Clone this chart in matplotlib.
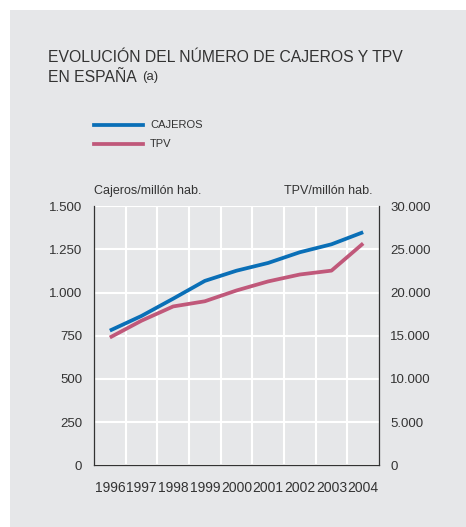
import numpy as np
import matplotlib.pyplot as plt
from matplotlib.patches import Rectangle
from matplotlib.ticker import FuncFormatter

plt.rcParams['font.family'] = ['Liberation Sans', 'DejaVu Sans']

# datos
years = ["1996", "1997", "1998", "1999", "2000", "2001", "2002", "2003", "2004"]
cajeros = [780, 865, 965, 1068, 1127, 1172, 1234, 1280, 1350]
tpv = [14800, 16750, 18400, 19000, 20250, 21300, 22100, 22550, 25700]

left_ticks = [0, 250, 500, 750, 1000, 1250, 1500]
right_ticks = [0, 5000, 10000, 15000, 20000, 25000, 30000]

BG = "#e6e7e9"
TXT = "#333333"
BLUE = "#0a6fb7"
RED = "#c0587a"


def miles(v, pos):
    # separador de miles con punto
    return "{:,.0f}".format(v).replace(",", ".")


fig = plt.figure(figsize=(4.66, 5.27), dpi=100)
fig.patch.set_facecolor("white")
fig.patches.append(Rectangle((10/466, 0), 1 - 10/466, 1 - 10/527,
                             transform=fig.transFigure, facecolor=BG,
                             edgecolor="none", zorder=-10))

ax = fig.add_axes([94/466, 61.7/527, 285/466, 259/527])
ax.set_facecolor(BG)
ax2 = ax.twinx()

x = np.arange(len(years))
ax.plot(x, cajeros, color=BLUE, lw=2.7, solid_capstyle="butt", zorder=3)
ax2.plot(x, tpv, color=RED, lw=2.7, solid_capstyle="butt", zorder=3)

ax.set_xlim(-0.5, len(years) - 0.5)
ax.set_ylim(0, 1500)
ax2.set_ylim(0, 30000)
ax.set_xticks(x)
ax.set_xticklabels(years)
ax.set_xticks(np.arange(0.5, len(years) - 1, 1), minor=True)
ax.set_yticks(left_ticks)
ax2.set_yticks(right_ticks)
ax.yaxis.set_major_formatter(FuncFormatter(miles))
ax2.yaxis.set_major_formatter(FuncFormatter(miles))

ax.grid(True, which="minor", axis="x", color="white", lw=1.5)
ax.grid(True, which="major", axis="y", color="white", lw=1.5)
ax.set_axisbelow(True)

for a in (ax, ax2):
    a.spines["top"].set_visible(False)
    for s in ("left", "right", "bottom"):
        a.spines[s].set_color(TXT)
        a.spines[s].set_linewidth(0.9)
ax.spines["right"].set_visible(False)
ax2.spines["left"].set_visible(False)
ax2.spines["bottom"].set_visible(False)

ax.tick_params(axis="both", which="both", length=0, colors=TXT)
ax.tick_params(axis="y", pad=8.5, labelsize=9.5)
ax.tick_params(axis="x", pad=11.5, labelsize=10)
ax2.tick_params(axis="y", length=0, labelsize=9.5, colors=TXT, pad=8)

# titulo
fig.text(48/466, 1 - 57/527, "EVOLUCIÓN DEL NÚMERO DE CAJEROS Y TPV",
         fontsize=11.3, color=TXT, va="center", ha="left")
fig.text(48/466, 1 - 77/527, "EN ESPAÑA", fontsize=11.3, color=TXT,
         va="center", ha="left")
fig.text(142/466, 1 - 77/527, "(a)", fontsize=9.5, color=TXT,
         va="center", ha="left")

# leyenda
for yy, lab, col in [(124.7, "CAJEROS", BLUE), (144.3, "TPV", RED)]:
    fig.lines.append(plt.Line2D([94/466, 142.7/466], [1 - yy/527, 1 - yy/527],
                                transform=fig.transFigure, color=col, lw=2.7))
    fig.text(150/466, 1 - yy/527, lab, fontsize=8, color=TXT,
             va="center", ha="left")

# titulos de los ejes
fig.text(94/466, 1 - 191/527, "Cajeros/millón hab.", fontsize=9, color=TXT,
         va="center", ha="left")
fig.text(373/466, 1 - 191/527, "TPV/millón hab.", fontsize=9, color=TXT,
         va="center", ha="right")

fig.savefig("out.png", dpi=100, facecolor=fig.get_facecolor())
